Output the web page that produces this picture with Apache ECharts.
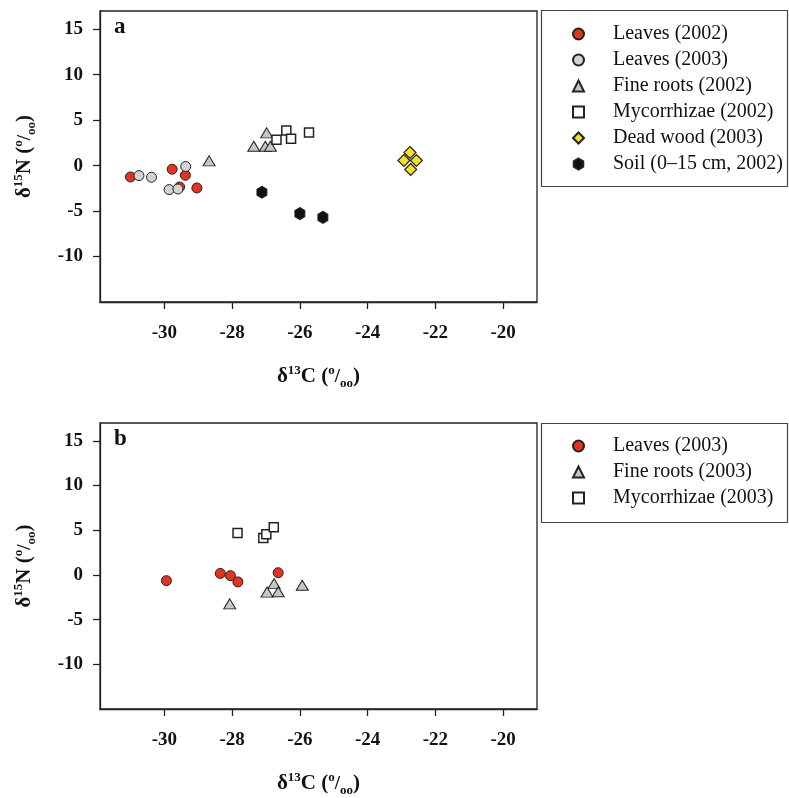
<!DOCTYPE html>
<html>
<head>
<meta charset="utf-8">
<script src="https://cdn.jsdelivr.net/npm/echarts@6/dist/echarts.min.js"></script>
<style>html,body{margin:0;padding:0;background:#fff}#c{width:789px;height:798px}</style>
</head>
<body>
<div id="c"></div>
<script>
// ---- data ----
const xTicks = [-30, -28, -26, -24, -22, -20];
const yTicks = [-10, -5, 0, 5, 10, 15];
const panelLabels = ['a', 'b'];
// panel a
const leaves2002A = [[-31.0, -1.25], [-29.77, -0.4], [-29.38, -1.06], [-29.55, -2.35], [-29.04, -2.46]];
const leaves2003A = [[-30.75, -1.1], [-30.38, -1.28], [-29.37, -0.1], [-29.86, -2.64], [-29.6, -2.57]];
const fineRoots2002A = [[-28.68, 0.52], [-26.98, 3.6], [-27.36, 2.13], [-27.02, 2.13], [-26.87, 2.13]];
const myco2002A = [[-26.4, 3.86], [-26.69, 2.83], [-26.26, 2.94], [-25.73, 3.64]];
const deadWood2003A = [[-22.75, 1.44], [-22.93, 0.56], [-22.56, 0.56], [-22.73, -0.43]];
const soil2002A = [[-27.12, -2.93], [-26.0, -5.28], [-25.32, -5.69]];
// panel b
const leaves2003B = [[-29.94, -0.64], [-28.35, 0.17], [-28.05, -0.08], [-27.83, -0.78], [-26.64, 0.25]];
const fineRoots2003B = [[-28.07, -3.24], [-26.76, -0.97], [-26.97, -1.92], [-26.64, -1.88], [-25.93, -1.15]];
const myco2003B = [[-27.84, 4.68], [-27.08, 4.13], [-26.99, 4.54], [-26.77, 5.34]];

const namesA = ['Leaves (2002)', 'Leaves (2003)', 'Fine roots (2002)', 'Mycorrhizae (2002)', 'Dead wood (2003)', 'Soil (0\u201315 cm, 2002)'];
const namesB = ['Leaves (2003)', 'Fine roots (2003)', 'Mycorrhizae (2003)'];

// ---- styles ----
const SERIF = "'Liberation Serif', 'Times New Roman', serif";
const EDGE = '#222';
const RED = '#e5331f', GRAY = '#d2d2d2', TRI = '#c6c6c6', YEL = '#f6e11c', BLK = '#111';
const HEX = 'path://M0,-1 L0.866,-0.5 L0.866,0.5 L0,1 L-0.866,0.5 L-0.866,-0.5 Z';

function rich() {
  const base = {fontFamily: SERIF, fontWeight: 'bold', color: '#111'};
  return {
    d: Object.assign({fontSize: 21, lineHeight: 26}, base),
    sup: Object.assign({fontSize: 13, lineHeight: 13, verticalAlign: 'top'}, base),
    m: Object.assign({fontSize: 21, lineHeight: 26}, base),
    sup2: Object.assign({fontSize: 13, lineHeight: 13, verticalAlign: 'top'}, base),
    sl: Object.assign({fontSize: 19, lineHeight: 26}, base),
    sub: Object.assign({fontSize: 13, lineHeight: 18, verticalAlign: 'bottom'}, base)
  };
}
const xName = '{d|\u03b4}{sup|13}{m|C (}{sup2|o}{sl|/}{sub|oo}{m|)}';
const yName = '{d|\u03b4}{sup|15}{m|N (}{sup2|o}{sl|/}{sub|oo}{m|)}';

function xAxis(gi) {
  return {
    type: 'value', gridIndex: gi, min: -31.9, max: -19,
    splitLine: {show: false},
    axisLine: {show: true, onZero: false, lineStyle: {color: EDGE, width: 1.3}},
    axisTick: {show: true, length: 7, customValues: xTicks, lineStyle: {color: EDGE, width: 1.3}},
    axisLabel: {customValues: xTicks, margin: 22, fontFamily: SERIF, fontWeight: 'bold', fontSize: 19, color: '#111'},
    name: xName, nameLocation: 'middle', nameGap: 62,
    nameTextStyle: {rich: rich()}
  };
}
function yAxis(gi) {
  return {
    type: 'value', gridIndex: gi, min: -15, max: 17,
    splitLine: {show: false},
    axisLine: {show: true, onZero: false, lineStyle: {color: EDGE, width: 1.3}},
    axisTick: {show: true, length: 7, customValues: yTicks, lineStyle: {color: EDGE, width: 1.3}},
    axisLabel: {customValues: yTicks, margin: 17, fontFamily: SERIF, fontWeight: 'bold', fontSize: 19, color: '#111'},
    name: yName, nameLocation: 'middle', nameGap: 62, nameRotate: 90,
    nameTextStyle: {rich: rich()}
  };
}
function sc(name, gi, data, symbol, size, fill, bw) {
  return {
    type: 'scatter', name: name, xAxisIndex: gi, yAxisIndex: gi, data: data,
    symbol: symbol, symbolSize: size,
    itemStyle: {color: fill, borderColor: EDGE, borderWidth: bw || 1, opacity: 1},
    emphasis: {disabled: true}
  };
}

const legendCommon = {
  orient: 'vertical', left: 572, padding: 0, itemWidth: 11, itemHeight: 11, itemGap: 6,
  selectedMode: false,
  textStyle: {fontFamily: SERIF, fontSize: 20, color: '#111', lineHeight: 20, padding: [0, 0, 0, 24]}
};

const option = {
  animation: false,
  backgroundColor: '#fff',
  grid: [
    {left: 100, top: 11, width: 437, height: 291, show: true, borderColor: EDGE, borderWidth: 1.3},
    {left: 100, top: 423, width: 437, height: 291, show: true, borderColor: EDGE, borderWidth: 1.3}
  ],
  xAxis: [xAxis(0), xAxis(1)],
  yAxis: [yAxis(0), yAxis(1)],
  legend: [
    Object.assign({}, legendCommon, {top: 24, data: namesA}),
    Object.assign({}, legendCommon, {top: 436, data: namesB.map(n => 'b:' + n), formatter: n => n.replace(/^b:/, '')})
  ],
  graphic: [
    {type: 'rect', shape: {x: 541.5, y: 10.5, width: 246, height: 176}, style: {fill: 'none', stroke: '#444', lineWidth: 1.2}, silent: true},
    {type: 'rect', shape: {x: 541.5, y: 423.5, width: 246, height: 99}, style: {fill: 'none', stroke: '#444', lineWidth: 1.2}, silent: true},
    {type: 'text', left: 114, top: 16, style: {text: panelLabels[0], font: "bold 23px " + SERIF, fill: '#111'}, silent: true},
    {type: 'text', left: 114, top: 428, style: {text: panelLabels[1], font: "bold 23px " + SERIF, fill: '#111'}, silent: true}
  ],
  series: [
    sc(namesA[0], 0, leaves2002A, 'circle', 10, RED),
    sc(namesA[1], 0, leaves2003A, 'circle', 10, GRAY),
    sc(namesA[2], 0, fineRoots2002A, 'triangle', [12, 10], TRI),
    sc(namesA[3], 0, myco2002A, 'rect', 9, '#fff', 1.5),
    sc(namesA[4], 0, deadWood2003A, 'diamond', 12, YEL, 1.2),
    sc(namesA[5], 0, soil2002A, HEX, [10, 12], BLK),
    sc('b:' + namesB[0], 1, leaves2003B, 'circle', 10, RED),
    sc('b:' + namesB[1], 1, fineRoots2003B, 'triangle', [12, 10], TRI),
    sc('b:' + namesB[2], 1, myco2003B, 'rect', 9, '#fff', 1.5)
  ]
};
const chart = echarts.init(document.getElementById('c'), null, {renderer: 'canvas'});
chart.setOption(option);
</script>
</body>
</html>
